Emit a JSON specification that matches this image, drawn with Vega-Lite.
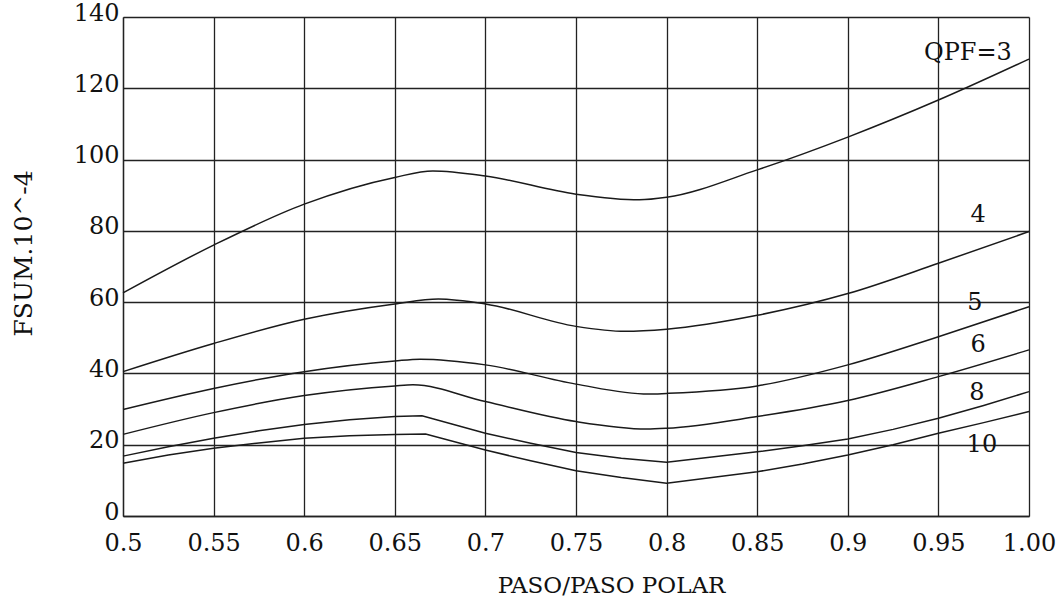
{
  "$schema": "https://vega.github.io/schema/vega-lite/v6.json",
  "width": 906,
  "height": 499,
  "autosize": {"type": "none"},
  "padding": {"left": 123, "top": 17, "right": 31, "bottom": 84},
  "background": "white",
  "config": {
    "view": {"stroke": null},
    "font": "DejaVu Serif",
    "text": {"font": "DejaVu Serif"}
  },
  "datasets": {
    "curves": [
      {"qpf": "3", "x": 0.5, "y": 62.6}, {"qpf": "3", "x": 0.55, "y": 76.0}, {"qpf": "3", "x": 0.6, "y": 87.5},
      {"qpf": "3", "x": 0.65, "y": 95.0}, {"qpf": "3", "x": 0.671, "y": 96.8}, {"qpf": "3", "x": 0.7, "y": 95.4},
      {"qpf": "3", "x": 0.75, "y": 90.3}, {"qpf": "3", "x": 0.785, "y": 88.7}, {"qpf": "3", "x": 0.8, "y": 89.4},
      {"qpf": "3", "x": 0.85, "y": 97.1}, {"qpf": "3", "x": 0.9, "y": 106.3}, {"qpf": "3", "x": 0.95, "y": 116.7},
      {"qpf": "3", "x": 1.0, "y": 128.2},
      {"qpf": "4", "x": 0.5, "y": 40.5}, {"qpf": "4", "x": 0.55, "y": 48.4}, {"qpf": "4", "x": 0.6, "y": 55.2},
      {"qpf": "4", "x": 0.65, "y": 59.5}, {"qpf": "4", "x": 0.674, "y": 60.9}, {"qpf": "4", "x": 0.7, "y": 59.5},
      {"qpf": "4", "x": 0.75, "y": 53.2}, {"qpf": "4", "x": 0.777, "y": 51.8}, {"qpf": "4", "x": 0.8, "y": 52.4},
      {"qpf": "4", "x": 0.85, "y": 56.3}, {"qpf": "4", "x": 0.9, "y": 62.4}, {"qpf": "4", "x": 0.95, "y": 70.9},
      {"qpf": "4", "x": 1.0, "y": 79.8},
      {"qpf": "5", "x": 0.5, "y": 29.9}, {"qpf": "5", "x": 0.55, "y": 35.8}, {"qpf": "5", "x": 0.6, "y": 40.5},
      {"qpf": "5", "x": 0.65, "y": 43.5}, {"qpf": "5", "x": 0.664, "y": 44.0}, {"qpf": "5", "x": 0.7, "y": 42.4},
      {"qpf": "5", "x": 0.75, "y": 37.0}, {"qpf": "5", "x": 0.79, "y": 34.2}, {"qpf": "5", "x": 0.8, "y": 34.4},
      {"qpf": "5", "x": 0.85, "y": 36.5}, {"qpf": "5", "x": 0.9, "y": 42.4}, {"qpf": "5", "x": 0.95, "y": 50.3},
      {"qpf": "5", "x": 1.0, "y": 58.7},
      {"qpf": "6", "x": 0.5, "y": 22.9}, {"qpf": "6", "x": 0.55, "y": 29.0}, {"qpf": "6", "x": 0.6, "y": 33.8},
      {"qpf": "6", "x": 0.65, "y": 36.5}, {"qpf": "6", "x": 0.66, "y": 36.8}, {"qpf": "6", "x": 0.7, "y": 32.1},
      {"qpf": "6", "x": 0.75, "y": 26.5}, {"qpf": "6", "x": 0.789, "y": 24.4}, {"qpf": "6", "x": 0.8, "y": 24.6},
      {"qpf": "6", "x": 0.85, "y": 27.9}, {"qpf": "6", "x": 0.9, "y": 32.4}, {"qpf": "6", "x": 0.95, "y": 39.1},
      {"qpf": "6", "x": 1.0, "y": 46.6},
      {"qpf": "8", "x": 0.5, "y": 16.8}, {"qpf": "8", "x": 0.525, "y": 19.4}, {"qpf": "8", "x": 0.55, "y": 21.8},
      {"qpf": "8", "x": 0.575, "y": 23.9}, {"qpf": "8", "x": 0.6, "y": 25.7}, {"qpf": "8", "x": 0.625, "y": 27.0},
      {"qpf": "8", "x": 0.65, "y": 27.9}, {"qpf": "8", "x": 0.665, "y": 28.1}, {"qpf": "8", "x": 0.7, "y": 23.2},
      {"qpf": "8", "x": 0.725, "y": 20.4}, {"qpf": "8", "x": 0.75, "y": 17.8}, {"qpf": "8", "x": 0.775, "y": 16.2},
      {"qpf": "8", "x": 0.8, "y": 15.1}, {"qpf": "8", "x": 0.85, "y": 18.0}, {"qpf": "8", "x": 0.875, "y": 19.7},
      {"qpf": "8", "x": 0.9, "y": 21.6}, {"qpf": "8", "x": 0.925, "y": 24.3}, {"qpf": "8", "x": 0.95, "y": 27.4},
      {"qpf": "8", "x": 0.975, "y": 31.0}, {"qpf": "8", "x": 1.0, "y": 34.9},
      {"qpf": "10", "x": 0.5, "y": 14.8}, {"qpf": "10", "x": 0.525, "y": 17.1}, {"qpf": "10", "x": 0.55, "y": 19.0},
      {"qpf": "10", "x": 0.575, "y": 20.5}, {"qpf": "10", "x": 0.6, "y": 21.8}, {"qpf": "10", "x": 0.625, "y": 22.5},
      {"qpf": "10", "x": 0.65, "y": 22.9}, {"qpf": "10", "x": 0.667, "y": 23.0}, {"qpf": "10", "x": 0.7, "y": 18.5},
      {"qpf": "10", "x": 0.725, "y": 15.5}, {"qpf": "10", "x": 0.75, "y": 12.7}, {"qpf": "10", "x": 0.775, "y": 10.8},
      {"qpf": "10", "x": 0.8, "y": 9.2}, {"qpf": "10", "x": 0.85, "y": 12.4}, {"qpf": "10", "x": 0.875, "y": 14.6},
      {"qpf": "10", "x": 0.9, "y": 17.1}, {"qpf": "10", "x": 0.925, "y": 20.0}, {"qpf": "10", "x": 0.95, "y": 23.2},
      {"qpf": "10", "x": 0.975, "y": 26.2}, {"qpf": "10", "x": 1.0, "y": 29.3}
    ],
    "labels": [
      {"label": "QPF=3", "x": 0.9663, "y": 129.9},
      {"label": "4", "x": 0.9719, "y": 84.4},
      {"label": "5", "x": 0.9702, "y": 59.8},
      {"label": "6", "x": 0.9719, "y": 48.0},
      {"label": "8", "x": 0.9713, "y": 34.6},
      {"label": "10", "x": 0.974, "y": 19.9}
    ]
  },
  "layer": [
    {
      "data": {"name": "curves"},
      "transform": [{"filter": "datum.qpf == '3' || datum.qpf == '4' || datum.qpf == '5' || datum.qpf == '6'"}],
      "mark": {"type": "line", "interpolate": "monotone", "color": "#1a1a1a", "strokeWidth": 1.5},
      "encoding": {
        "x": {
          "field": "x", "type": "quantitative",
          "scale": {"domain": [0.5, 1.0], "nice": false, "zero": false},
          "axis": {
            "title": "PASO/PASO POLAR",
            "values": [0.5, 0.55, 0.6, 0.65, 0.7, 0.75, 0.8, 0.85, 0.9, 0.95, 1.0],
            "labelExpr": "datum.value >= 0.999 ? '1.00' : format(datum.value, '.2~f')",
            "labelFont": "DejaVu Serif", "labelFontSize": 24, "labelColor": "#111",
            "labelPadding": 15, "ticks": false,
            "grid": true, "gridColor": "#222", "gridWidth": 1.3, "gridOpacity": 1,
            "domainColor": "#222", "domainWidth": 1.3,
            "titleFont": "DejaVu Serif", "titleFontSize": 23, "titleFontWeight": "normal", "titleColor": "#111",
            "titleX": 488, "titleY": 76, "titleAlign": "center", "titleBaseline": "alphabetic",
            "labelFlush": false, "labelOverlap": false
          }
        },
        "y": {
          "field": "y", "type": "quantitative",
          "scale": {"domain": [0, 140], "nice": false},
          "axis": {
            "title": "FSUM.10^-4",
            "values": [0, 20, 40, 60, 80, 100, 120, 140],
            "labelFont": "DejaVu Serif", "labelFontSize": 24, "labelColor": "#111",
            "labelPadding": 4, "ticks": false, "labelOffset": -4,
            "grid": true, "gridColor": "#222", "gridWidth": 1.3, "gridOpacity": 1,
            "domainColor": "#222", "domainWidth": 1.3,
            "titleFont": "DejaVu Serif", "titleFontSize": 25, "titleFontWeight": "normal", "titleColor": "#111",
            "titleX": -100, "titleY": 236, "titleAngle": -90, "titleAlign": "center", "titleBaseline": "middle",
            "labelFlush": false, "labelOverlap": false
          }
        },
        "detail": {"field": "qpf", "type": "nominal"}
      }
    },
    {
      "data": {"name": "curves"},
      "transform": [{"filter": "datum.qpf == '8' || datum.qpf == '10'"}],
      "mark": {"type": "line", "interpolate": "linear", "color": "#1a1a1a", "strokeWidth": 1.5},
      "encoding": {
        "x": {"field": "x", "type": "quantitative"},
        "y": {"field": "y", "type": "quantitative"},
        "detail": {"field": "qpf", "type": "nominal"}
      }
    },
    {
      "data": {"name": "labels"},
      "mark": {"type": "text", "font": "DejaVu Serif", "fontSize": 24, "color": "#111", "align": "center", "baseline": "middle"},
      "encoding": {
        "x": {"field": "x", "type": "quantitative"},
        "y": {"field": "y", "type": "quantitative"},
        "text": {"field": "label", "type": "nominal"}
      }
    }
  ]
}
